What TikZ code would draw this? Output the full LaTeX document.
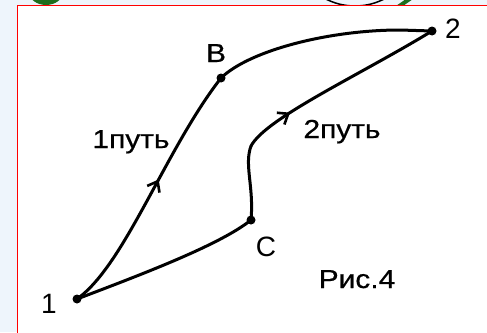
\documentclass[tikz,border=0pt]{standalone}
\usepackage{fontspec}
\setmainfont{Liberation Sans}
\newfontfamily\lblfont[FakeStretch=1.15,FakeBold=0.6]{Liberation Sans}
\usetikzlibrary{arrows.meta,decorations.markings}
\definecolor{bgblue}{RGB}{238,245,252}
\definecolor{leaf}{RGB}{30,110,30}
\tikzset{
  path/.style={line width=3pt, line cap=round, line join=round},
  midarrow/.style={postaction={decorate, decoration={markings,
      mark=at position #1 with {\arrow{Straight Barb[length=9pt,width=14pt,line width=2.6pt]}}}}},
  dotpt/.style={circle, fill=black, inner sep=0pt, minimum size=9pt},
  lbl/.style={font=\lblfont\fontsize{26}{30}\selectfont, anchor=base, inner sep=0pt},
  numlbl/.style={font=\fontsize{28}{32}\selectfont, anchor=base, inner sep=0pt},
}
\begin{document}
\begin{tikzpicture}[x=1pt,y=-1pt]
\useasboundingbox (0,0) rectangle (487,332);
\clip (0,0) rectangle (487,332);
\fill[bgblue] (0,0) rectangle (487,332);
% decorations at top edge
\fill[leaf] (46,-8) ellipse [x radius=17, y radius=13];
\draw[line width=1.5pt] (355,-58) circle [radius=64];
\draw[leaf, line width=4pt] (398,7) -- (411,-2);
% frame
\draw[red, line width=1.8pt, fill=white] (17.5,5.5) rectangle (495,345);

% points
\node[dotpt] (p1) at (77,299) {};
\node[dotpt] (pB) at (221,78) {};
\node[dotpt] (p2) at (432,31) {};
\node[dotpt] (pC) at (251,220) {};
\coordinate (m) at (251,146);

% path 1
\draw[path, midarrow=0.55] (p1.center) .. controls (125,265) and (165,150) .. (pB.center);
\draw[path] (pB.center) .. controls (250,50) and (330,30) .. (400,30) -- (p2.center);
% path 2
\draw[path] (p1.center) .. controls (140,275) and (220,245) .. (pC.center);
\draw[path] (pC.center) .. controls (254,186) and (244,165) .. (m);
\draw[path, midarrow=0.24] (m) .. controls (266,118) and (360,75) .. (p2.center);

% labels
\node[numlbl] (l1) at (49,313) {1};
\node[numlbl] (l2) at (453,38) {2};
\node[lbl] (lB) at (216,62) {B};
\node[numlbl] (lC) at (266,256) {C};
\node[lbl] (t1) at (131,148) {1путь};
\node[lbl] (t2) at (342,138) {2путь};
\node[lbl] (fig) at (357,288) {Рис.4};
\end{tikzpicture}
\end{document}
